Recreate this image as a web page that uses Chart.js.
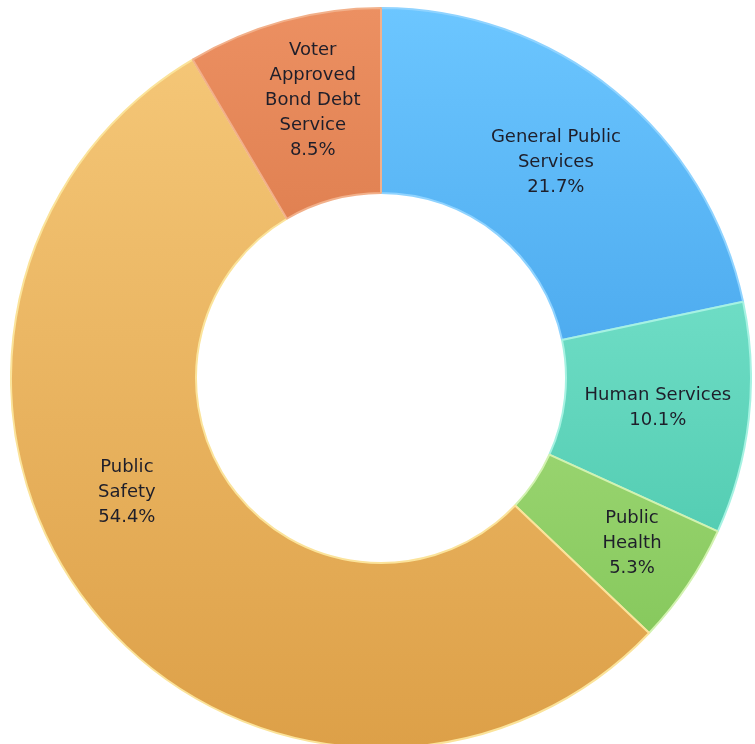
<!DOCTYPE html>
<html lang="en">

<head>
    <meta charset="UTF-8">
    <title>Budget by Function</title>
    <style>
        html, body { margin: 0; padding: 0; background: #fff; overflow: hidden; width: 755px; height: 744px; }
        #myChart { position: absolute; left: 10px; top: 7px; }
    </style>
</head>

<body>
    <canvas id="myChart" width="742" height="742"></canvas>
    <script src="https://cdn.jsdelivr.net/npm/chart.js"></script>
    <script>
        const categories = ['General Public Services', 'Human Services', 'Public Health', 'Public Safety', 'Voter Approved Bond Debt Service'];
        const shares = [21.7, 10.1, 5.3, 54.4, 8.5];
        // how each label is broken into lines on the chart
        const labelLines = [
            ['General Public', 'Services'],
            ['Human Services'],
            ['Public', 'Health'],
            ['Public', 'Safety'],
            ['Voter', 'Approved', 'Bond Debt', 'Service']
        ];
        // small manual nudges from the arc centre, like the moved labels in the original
        const labelNudge = [[0, 0], [1, -1], [21, 10], [-37, -58], [5, -10]];

        const topColors = ['#6cc6ff', '#8ff0dc', '#c2ee9a', '#f6c97a', '#ec9062'];
        const bottomColors = ['#2a8cdc', '#3cbfa2', '#7cc252', '#dda048', '#c45c2a'];
        const edgeColors = ['#8fd3ff', '#a6f2e2', '#d2f2b0', '#fbe39a', '#f2b08a'];

        function sliceGradient(ctx, area, i) {
            const g = ctx.createLinearGradient(0, area.top, 0, area.bottom);
            g.addColorStop(0, topColors[i]);
            g.addColorStop(1, bottomColors[i]);
            return g;
        }

        // draws the text inside each slice
        const sliceLabels = {
            id: 'sliceLabels',
            afterDatasetsDraw(chart) {
                const { ctx } = chart;
                const arcs = chart.getDatasetMeta(0).data;
                ctx.save();
                ctx.font = '18px "DejaVu Sans", Verdana, sans-serif';
                ctx.fillStyle = '#1e1e2a';
                ctx.textAlign = 'center';
                ctx.textBaseline = 'middle';
                const lh = 25;
                arcs.forEach((arc, i) => {
                    const p = arc.tooltipPosition();
                    const lines = labelLines[i].concat([shares[i].toFixed(1) + '%']);
                    const x = p.x + labelNudge[i][0];
                    let y = p.y + labelNudge[i][1] - (lines.length - 1) * lh / 2;
                    lines.forEach(t => {
                        ctx.fillText(t, x, y);
                        y += lh;
                    });
                });
                ctx.restore();
            }
        };

        const ctx = document.getElementById('myChart').getContext('2d');
        const chart = new Chart(ctx, {
            type: 'doughnut',
            data: {
                labels: categories,
                datasets: [{
                    data: shares,
                    backgroundColor: function(context) {
                        const { chartArea, ctx } = context.chart;
                        if (!chartArea) return topColors[context.dataIndex];
                        return sliceGradient(ctx, chartArea, context.dataIndex);
                    },
                    borderColor: edgeColors,
                    borderWidth: 2,
                    hoverOffset: 0
                }]
            },
            options: {
                responsive: false,
                animation: false,
                cutout: '50%',
                layout: { padding: 0 },
                plugins: {
                    legend: { display: false },
                    tooltip: { enabled: false }
                }
            },
            plugins: [sliceLabels]
        });
    </script>
</body>

</html>
